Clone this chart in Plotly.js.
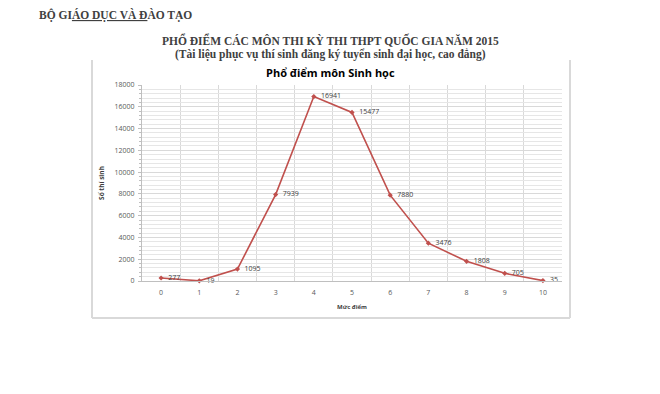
<!DOCTYPE html>
<html><head><meta charset="utf-8">
<script src="https://cdn.plot.ly/plotly-3.0.1.min.js"></script>
<style>html,body{margin:0;padding:0;background:#fff}</style>
</head><body><div id="chart" style="width:660px;height:394px"></div>
<script>
const scores = [0,1,2,3,4,5,6,7,8,9,10];
const counts = [277,19,1095,7939,16941,15477,7880,3476,1808,705,35];
const labels = counts.map(v => '  ' + v);

const L=142, R=562, T=85, B=281;
const px = x => (x-L)/(R-L);
const py = y => (B-y)/(B-T);

const trace = {
  x: scores, y: counts, type:'scatter', mode:'lines+markers+text',
  text: labels, textposition:'middle right',
  textfont:{family:'Open Sans, sans-serif', size:7, color:'#404040'},
  line:{color:'#C0504D', width:1.6},
  marker:{symbol:'diamond', size:4, color:'#C0504D'},
  cliponaxis:false, hoverinfo:'none'
};

const layout = {
  width:660, height:394,
  margin:{l:L, r:660-R, t:T, b:394-B},
  paper_bgcolor:'#fff', plot_bgcolor:'#fff',
  showlegend:false,
  xaxis:{range:[-0.5,10.5], tickvals:scores, ticktext:scores.map(String),
    showgrid:false, zeroline:false, showline:true, linecolor:'#bfbfbf', linewidth:1,
    ticks:'', ticklabelstandoff:5, tickfont:{family:'Open Sans, sans-serif', size:7, color:'#595959'},
    minor:{tick0:0.5, dtick:1, showgrid:true, gridcolor:'#d9d9d9', gridwidth:1, ticks:''},
    title:{text:'<b>Mức điểm</b>', font:{family:'Open Sans, sans-serif', size:6, color:'#404040'}, standoff:8}
  },
  yaxis:{range:[0,18000], dtick:2000, tick0:0, tickformat:'d',
    showgrid:true, gridcolor:'#d9d9d9', gridwidth:1, zeroline:false,
    showline:true, linecolor:'#bfbfbf', linewidth:1,
    ticks:'outside', ticklen:3, tickcolor:'#bfbfbf', ticklabelstandoff:2,
    tickfont:{family:'Open Sans, sans-serif', size:7, color:'#595959'},
    minor:{dtick:400, showgrid:true, gridcolor:'#e6e6e6', gridwidth:1, ticks:'outside', ticklen:2, tickcolor:'#bfbfbf'},
    title:{text:'<b>Số thí sinh</b>', font:{family:'Open Sans, sans-serif', size:6.5, color:'#404040'}, standoff:9}
  },
  shapes:[
    {type:'line', xref:'paper', yref:'paper', x0:px(92), x1:px(92), y0:py(60), y1:py(318), line:{color:'#d9d9d9', width:2}},
    {type:'line', xref:'paper', yref:'paper', x0:px(570), x1:px(570), y0:py(60), y1:py(318), line:{color:'#d9d9d9', width:2}},
    {type:'line', xref:'paper', yref:'paper', x0:px(92), x1:px(570), y0:py(318), y1:py(318), line:{color:'#d9d9d9', width:2}}
  ],
  annotations:[
    {xref:'paper', yref:'paper', x:px(37), y:py(15), xanchor:'left', yanchor:'middle', showarrow:false,
      text:'<b>BỘ GI<u>ÁO DỤC VÀ Đ</u>ÀO TẠO</b>', font:{family:'Liberation Serif, serif', size:11.5, color:'#404040'}},
    {xref:'paper', yref:'paper', x:px(330), y:py(40), xanchor:'center', yanchor:'middle', showarrow:false,
      text:'<b>PHỔ ĐIỂM CÁC MÔN THI KỲ THI THPT QUỐC GIA NĂM 2015</b>', font:{family:'Liberation Serif, serif', size:11.5, color:'#404040'}},
    {xref:'paper', yref:'paper', x:px(330), y:py(54), xanchor:'center', yanchor:'middle', showarrow:false,
      text:'<b>(Tài liệu phục vụ thí sinh đăng ký tuyển sinh đại học, cao đẳng)</b>', font:{family:'Liberation Serif, serif', size:11.5, color:'#404040'}},
    {xref:'paper', yref:'paper', x:px(330), y:py(73), xanchor:'center', yanchor:'middle', showarrow:false,
      text:'<b>Phổ điểm môn Sinh học</b>', font:{family:'Open Sans, sans-serif', size:11, color:'#000'}}
  ]
};

Plotly.newPlot('chart', [trace], layout, {displayModeBar:false, staticPlot:true});
</script></body></html>
